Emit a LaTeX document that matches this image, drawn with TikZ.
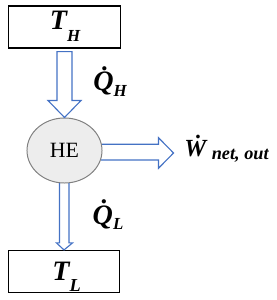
\documentclass[tikz,border=0pt]{standalone}
\usepackage{fontspec}
\setmainfont{Liberation Serif}
\usepackage{xcolor}
\usepackage{tikz}
\usetikzlibrary{calc,shapes.geometric}
\definecolor{FlowBlue}  {RGB}{ 68, 114, 196}
\definecolor{EngineFill}{RGB}{237, 237, 237}
\definecolor{EngineEdge}{RGB}{128, 128, 128}
% lowered subscript in the label font
\newcommand{\lowsub}[3][12]{\raisebox{-#2}{\fontsize{#1}{14}\selectfont #3}}
\tikzset{
  reservoir/.style={draw=black, line width=0.8pt, minimum width=2.78cm,
                    minimum height=1.05cm, inner sep=0pt},
  engine/.style={ellipse, draw=EngineEdge, fill=EngineFill, line width=0.7pt,
                 minimum width=1.875cm, minimum height=1.625cm, inner sep=0pt},
  heatflow/.style={draw=FlowBlue, line width=0.8pt, line join=miter},
  biglabel/.style={font=\fontsize{20}{24}\selectfont\bfseries\itshape,
                   inner sep=0pt, anchor=base}
}

\begin{document}
\begin{tikzpicture}[x=0.025cm, y=-0.025cm]
      \useasboundingbox (0,0) rectangle (276,300);
      % reservoirs and engine
      \node[reservoir] (TH) at (64.5, 27)  {};
      \node[reservoir] (TL) at (64, 271.5) {};
      \node[engine]    (HE) at (64.5, 150.5)
        {\fontsize{15.5}{18}\selectfont HE};
      \node[biglabel] (THtxt) at (65, 30) {T\lowsub{8.5pt}{H}};
      \node[biglabel] (TLtxt) at (66.5, 280) {T\lowsub[13]{8.5pt}{L}};
      % heat in from the hot side
      \draw[heatflow]
        ($(TH.south)+(-7.5,3)$) -- ($(HE.north)+(-7.5,-17)$)
        -- ($(HE.north)+(-16.5,-17)$) -- (HE.north)
        -- ($(HE.north)+(16.5,-17)$) -- ($(HE.north)+(7.5,-17)$)
        -- ($(TH.south)+(7.5,3)$) -- cycle;
      % net work out
      \coordinate (Wtip) at (173.5, 153);
      \draw[heatflow]
        ($(HE.east)+(-0.5,-6.2)$) -- ($(Wtip)+(-15,-8.7)$)
        -- ($(Wtip)+(-15,-15.3)$) -- (Wtip)
        -- ($(Wtip)+(-15,15.3)$) -- ($(Wtip)+(-15,7)$)
        -- ($(HE.east)+(-1.5,9.5)$);
      % heat out to the cold side
      \draw[heatflow]
        ($(HE.south)+(-5,-0.3)$) -- ($(TL.north)+(-4.5,-7)$)
        -- ($(TL.north)+(-7.5,-7)$) -- (TL.north)
        -- ($(TL.north)+(8.5,-7)$) -- ($(TL.north)+(5,-7)$)
        -- ($(HE.south)+(4.5,-0.3)$);
      % flow labels
      \node[biglabel] (QH) at (110, 91) {\.{Q}\lowsub{4pt}{H}};
      \node[biglabel] (QL) at (108, 224) {\.{Q}\lowsub{4pt}{L}};
      \node[biglabel, anchor=base west, font=\fontsize{17.5}{20}\selectfont\bfseries\itshape]
        (Wnet) at (184, 156.5) {\.{W}\hspace{4pt}\lowsub[13]{2pt}{net, out}};
    \end{tikzpicture}
\end{document}
